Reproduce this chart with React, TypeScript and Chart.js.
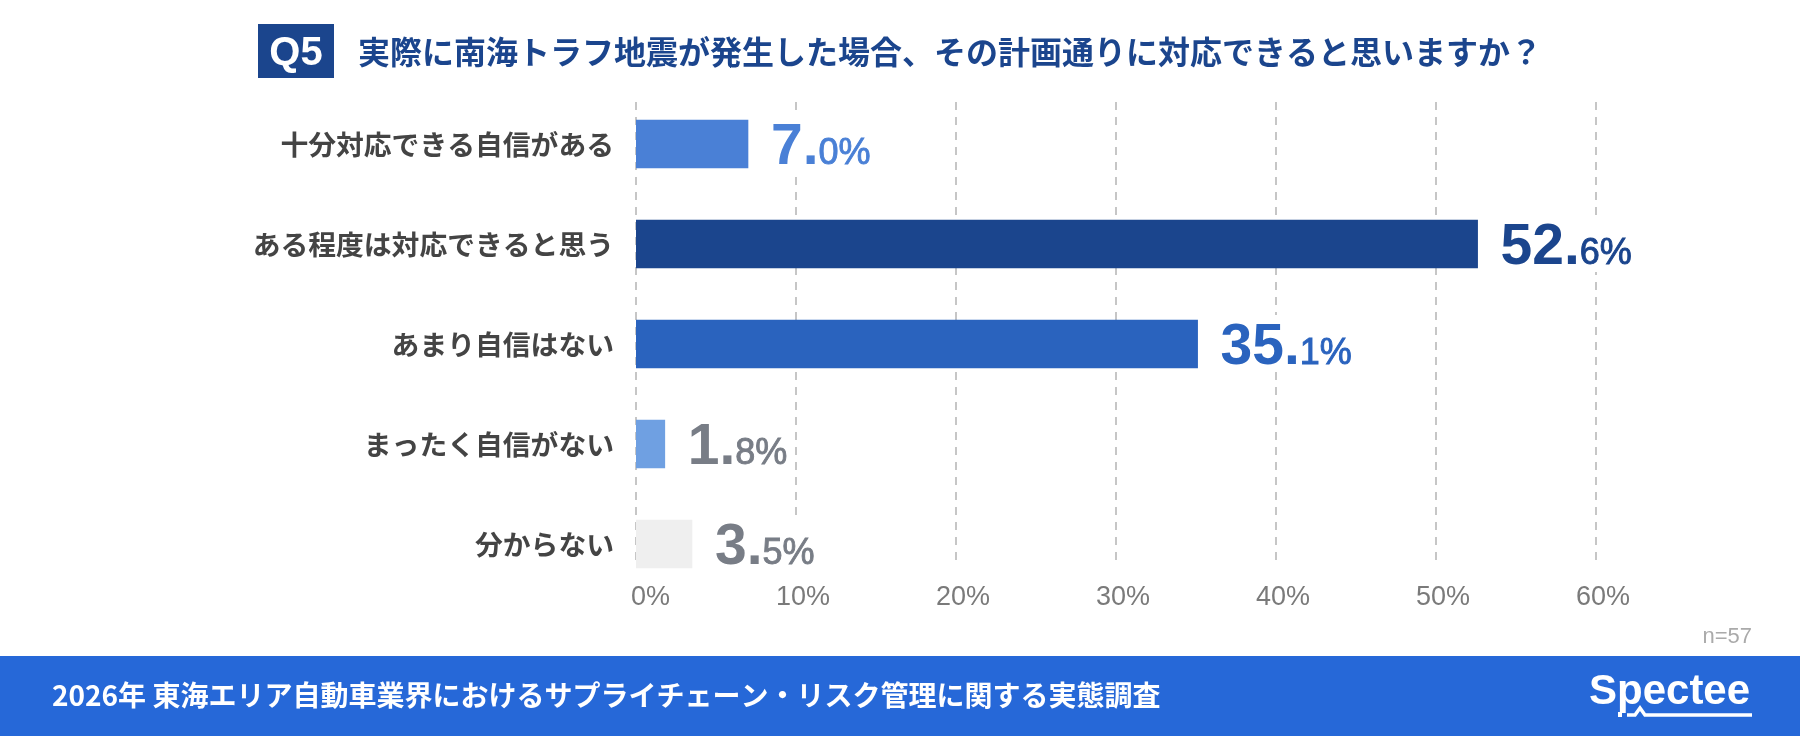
import { useEffect, useRef } from "react"
import { Chart, registerables, type ChartConfiguration, type Plugin } from "chart.js"

Chart.register(...registerables)

// survey data
const categories = [
  "十分対応できる自信がある",
  "ある程度は対応できると思う",
  "あまり自信はない",
  "まったく自信がない",
  "分からない",
]
const values = [7.0, 52.6, 35.1, 1.8, 3.5]
const barColors = ["#4A80D6", "#1B458D", "#2A63BE", "#6FA0E2", "#EFEFEF"]
const labelColors = ["#4A80D6", "#1B458D", "#2A63BE", "#787D86", "#787D86"]
const xTicks = [0, 10, 20, 30, 40, 50, 60]

const questionNo = "Q5"
const title = "実際に南海トラフ地震が発生した場合、その計画通りに対応できると思いますか？"
const sampleNote = "n=57"
const footerText = "2026年 東海エリア自動車業界におけるサプライチェーン・リスク管理に関する実態調査"
const brand = "Spectee"

const JP = "'Noto Sans CJK JP', sans-serif"
const LATIN = "'Liberation Sans', Arial, sans-serif"
const NAVY = "#1B458D"

const decor: Plugin<"bar"> = {
  id: "decor",
  beforeDatasetsDraw(chart) {
    const { ctx, chartArea } = chart
    const x = chart.scales.x
    const top = chartArea.top + 8
    const bottom = chartArea.bottom - 29

    // dashed vertical grid
    ctx.save()
    ctx.strokeStyle = "#C6C6C6"
    ctx.lineWidth = 2
    ctx.setLineDash([8, 7])
    xTicks.forEach((t) => {
      const px = Math.round(x.getPixelForValue(t))
      ctx.beginPath()
      ctx.moveTo(px, top)
      ctx.lineTo(px, bottom)
      ctx.stroke()
    })
    ctx.restore()

    // tick labels
    ctx.save()
    ctx.fillStyle = "#7A7A7A"
    ctx.font = `27px ${LATIN}`
    ctx.textAlign = "right"
    ctx.textBaseline = "alphabetic"
    xTicks.forEach((t) => {
      ctx.fillText(`${t}%`, x.getPixelForValue(t) + 34, chartArea.bottom + 11)
    })
    ctx.restore()
  },
  afterDatasetsDraw(chart) {
    const { ctx } = chart
    const meta = chart.getDatasetMeta(0)
    meta.data.forEach((el: any, i) => {
      const [intPart, decPart] = values[i].toFixed(1).split(".")
      const big = `${intPart}.`
      const small = `${decPart}%`
      const startX = el.x + 23
      const baseY = el.y + 20

      ctx.save()
      ctx.font = `bold 57px ${LATIN}`
      const wBig = ctx.measureText(big).width
      ctx.font = `36px ${LATIN}`
      const wSmall = ctx.measureText(small).width

      ctx.fillStyle = "#FFFFFF"
      ctx.fillRect(startX - 4, el.y - 29, wBig + wSmall + 8, 57)

      ctx.fillStyle = labelColors[i]
      ctx.strokeStyle = labelColors[i]
      ctx.textBaseline = "alphabetic"
      ctx.textAlign = "left"
      ctx.font = `bold 57px ${LATIN}`
      ctx.fillText(big, startX, baseY)
      ctx.font = `36px ${LATIN}`
      ctx.lineWidth = 0.9
      ctx.fillText(small, startX + wBig, baseY)
      ctx.strokeText(small, startX + wBig, baseY)
      ctx.restore()
    })
  },
  afterDraw(chart) {
    const { ctx, width, height } = chart

    ctx.save()
    // question badge
    ctx.fillStyle = NAVY
    ctx.fillRect(258, 24, 76, 54)
    ctx.fillStyle = "#FFFFFF"
    ctx.font = `bold 40px ${LATIN}`
    ctx.textAlign = "center"
    ctx.textBaseline = "alphabetic"
    ctx.fillText(questionNo, 296, 65)

    // title
    ctx.fillStyle = NAVY
    ctx.font = `bold 32px ${JP}`
    ctx.textAlign = "left"
    ctx.textBaseline = "middle"
    ctx.fillText(title, 358, 52)

    // sample size
    ctx.fillStyle = "#AAAAAA"
    ctx.font = `22px ${LATIN}`
    ctx.textAlign = "right"
    ctx.textBaseline = "alphabetic"
    ctx.fillText(sampleNote, 1752, 643)

    // footer band
    ctx.fillStyle = "#2668D8"
    ctx.fillRect(0, 656, width, height - 656)
    ctx.fillStyle = "#FFFFFF"
    ctx.font = `bold 28px ${JP}`
    ctx.textAlign = "left"
    ctx.textBaseline = "middle"
    ctx.fillText(footerText, 52, 695)

    // brand mark
    ctx.font = `bold 42px ${LATIN}`
    ctx.textBaseline = "alphabetic"
    ctx.fillText(brand, 1589, 704)
    ctx.fillRect(1618, 712, 4, 5)
    ctx.strokeStyle = "#FFFFFF"
    ctx.lineWidth = 3.5
    ctx.lineJoin = "miter"
    ctx.beginPath()
    ctx.moveTo(1627, 715)
    ctx.lineTo(1635, 715)
    ctx.lineTo(1640, 708)
    ctx.lineTo(1645, 715)
    ctx.lineTo(1752, 715)
    ctx.stroke()
    ctx.restore()
  },
}

export default function App() {
  const canvasRef = useRef<HTMLCanvasElement>(null)
  const chartRef = useRef<Chart | null>(null)

  useEffect(() => {
    document.body.style.margin = "0"
    if (!canvasRef.current) return
    if (chartRef.current) chartRef.current.destroy()

    const config: ChartConfiguration<"bar"> = {
      type: "bar",
      data: {
        labels: categories,
        datasets: [
          {
            data: values,
            backgroundColor: barColors,
            borderWidth: 0,
            barThickness: 48,
          },
        ],
      },
      options: {
        indexAxis: "y",
        responsive: false,
        animation: false,
        layout: { padding: { top: 94, right: 204, bottom: 142, left: 0 } },
        scales: {
          x: { type: "linear", min: 0, max: 60, display: false },
          y: {
            type: "category",
            grid: { display: false, drawTicks: false },
            border: { display: false },
            ticks: {
              color: "#444444",
              padding: 22,
              font: { family: JP, size: 27.8, weight: "bold" },
            },
            afterFit(scale) {
              scale.width = 636
            },
          },
        },
        plugins: {
          legend: { display: false },
          tooltip: { enabled: false },
        },
      },
      plugins: [decor],
    }

    chartRef.current = new Chart(canvasRef.current, config)
    return () => {
      chartRef.current?.destroy()
      chartRef.current = null
    }
  }, [])

  return (
    <div style={{ width: 1800, height: 736, background: "#FFFFFF" }}>
      <canvas ref={canvasRef} width={1800} height={736} style={{ display: "block", width: 1800, height: 736 }} />
    </div>
  )
}
